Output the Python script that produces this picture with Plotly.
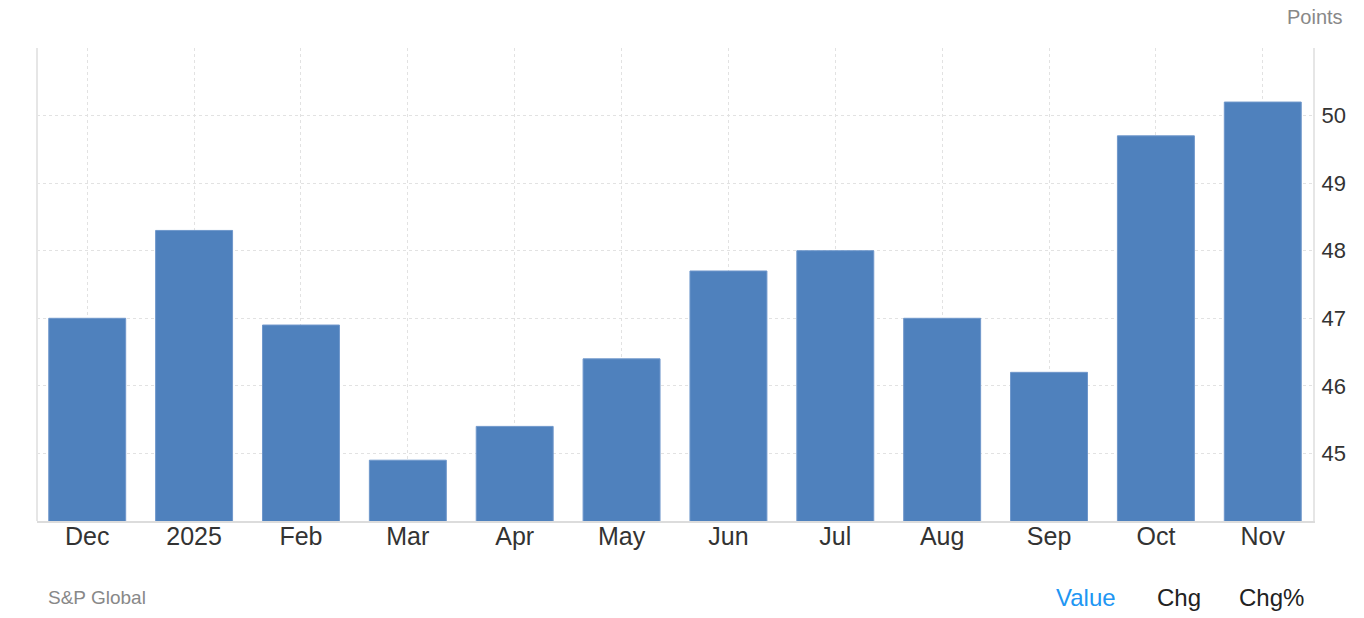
import plotly.graph_objects as go

months = ["Dec", "2025", "Feb", "Mar", "Apr", "May", "Jun", "Jul", "Aug", "Sep", "Oct", "Nov"]
values = [47.0, 48.3, 46.9, 44.9, 45.4, 46.4, 47.7, 48.0, 47.0, 46.2, 49.7, 50.2]
y_ticks = [44, 45, 46, 47, 48, 49, 50, 51]
y_labels = ["", "45", "46", "47", "48", "49", "50", ""]

FONT = "Helvetica Neue, Arial, Liberation Sans, sans-serif"
BAR_COLOR = "#4f81bd"
GRID = "#e2e2e2"

W, H = 1364, 618
L, R, T, B = 37, 51, 48, 97
PLOT_W = W - L - R
PLOT_H = H - T - B


def px_x(x):
    return (x - L) / PLOT_W


def px_y(y):
    return (H - B - y) / PLOT_H


fig = go.Figure(
    go.Bar(
        x=months,
        y=values,
        marker={"color": BAR_COLOR, "line": {"color": "#6f97cb", "width": 1}},
        hoverinfo="x+y",
    )
)

fig.update_layout(
    width=W,
    height=H,
    margin={"l": L, "r": R, "t": T, "b": B},
    plot_bgcolor="rgba(0,0,0,0)",
    paper_bgcolor="white",
    bargap=0.28,
    showlegend=False,
    font={"family": FONT, "color": "#333333"},
)

fig.update_xaxes(
    type="category",
    range=[-0.47, 11.47],
    showgrid=True,
    gridcolor=GRID,
    griddash="dot",
    gridwidth=1,
    showline=True,
    linecolor="#dcdcdc",
    linewidth=2,
    ticks="",
    ticklen=0,
    ticklabelstandoff=-8,
    tickfont={"size": 25, "color": "#333333"},
)

fig.update_yaxes(
    side="right",
    range=[44, 51],
    tickvals=y_ticks,
    ticktext=y_labels,
    showgrid=True,
    gridcolor=GRID,
    griddash="dot",
    gridwidth=1,
    showline=True,
    linecolor="#e6e6e6",
    linewidth=2,
    zeroline=False,
    ticks="",
    ticklen=0,
    ticklabelstandoff=2,
    tickfont={"size": 22, "color": "#333333"},
)

# left border of the plot area
fig.add_shape(
    type="line", xref="paper", yref="paper", x0=0, x1=0, y0=0, y1=1,
    line={"color": "#e6e6e6", "width": 2},
)

fig.add_annotation(
    text="Points", xref="paper", yref="paper", x=px_x(1315), y=px_y(17),
    xanchor="center", yanchor="middle", showarrow=False,
    font={"size": 20, "color": "#888888", "family": FONT},
)
fig.add_annotation(
    text="S&P Global", xref="paper", yref="paper", x=px_x(46), y=px_y(597),
    xanchor="left", yanchor="middle", showarrow=False,
    font={"size": 19, "color": "#888888", "family": FONT},
)

footer = [("Value", 1086, "#2196f3"), ("Chg", 1179, "#222222"), ("Chg%", 1271, "#222222")]
for label, x_pos, color in footer:
    fig.add_annotation(
        text=label, xref="paper", yref="paper", x=px_x(x_pos), y=px_y(597),
        xanchor="center", yanchor="middle", showarrow=False,
        font={"size": 24, "color": color, "family": FONT},
    )

fig.write_html(
    "out.html",
    config={"displayModeBar": False},
    post_script="document.body.style.margin='0';",
)
